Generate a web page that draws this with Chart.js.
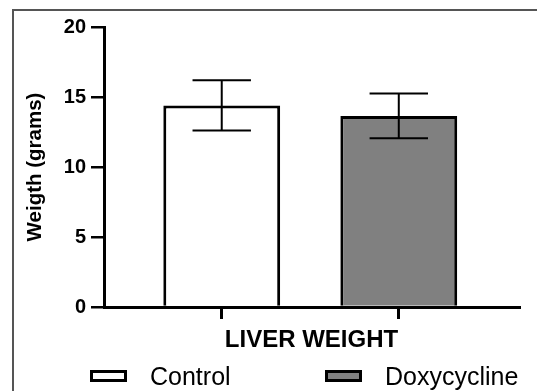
<!DOCTYPE html>
<html>
<head>
<meta charset="utf-8">
<title>Liver weight</title>
<script src="https://cdn.jsdelivr.net/npm/chart.js@4.4.1/dist/chart.umd.min.js"></script>
<style>
  html, body { margin: 0; padding: 0; background: #fff; }
  #wrap { position: relative; width: 537px; height: 391px; overflow: hidden; background: #fff; }
  #frame { position: absolute; left: 12px; top: 9px; width: 600px; height: 500px;
           border-left: 2px solid #555; border-top: 2px solid #555; }
  canvas { position: absolute; left: 0; top: 0; }
  #legend { position: absolute; left: 0; top: 363px; width: 537px; height: 26px;
            font-family: 'Liberation Sans', Arial, sans-serif; font-size: 25px; color: #000; }
  .item { position: absolute; top: 0; height: 26px; display: flex; align-items: center; white-space: nowrap; }
  .box { box-sizing: border-box; width: 37px; height: 12px; border: 3px solid #000; margin-right: 23px; }
</style>
</head>
<body>
<div id="wrap">
  <div id="frame"></div>
  <canvas id="liverChart" width="537" height="391"></canvas>
  <div id="legend"></div>
</div>
<script>
// data
const groups = ['Control', 'Doxycycline'];
const means = [14.4, 13.65];
const sds = [1.8, 1.6];
const yTicks = [0, 5, 10, 15, 20];
const fills = ['#ffffff', '#808080'];
const xTitle = 'LIVER WEIGHT';
const yTitle = 'Weigth (grams)';

const FONT = "'Liberation Sans', Arial, sans-serif";
Chart.defaults.font.family = FONT;
Chart.defaults.color = '#000';

// mean +/- sd whiskers, placed with the chart's own scales
const errorBars = {
  id: 'errorBars',
  afterDatasetsDraw(chart) {
    const ctx = chart.ctx;
    const y = chart.scales.y;
    const meta = chart.getDatasetMeta(0);
    ctx.save();
    ctx.strokeStyle = '#000';
    ctx.lineWidth = 2;
    meta.data.forEach((bar, i) => {
      const top = y.getPixelForValue(means[i] + sds[i]);
      const bot = y.getPixelForValue(means[i] - sds[i]);
      const half = bar.width / 4;
      ctx.beginPath();
      ctx.moveTo(bar.x, top);
      ctx.lineTo(bar.x, bot);
      ctx.moveTo(bar.x - half, top);
      ctx.lineTo(bar.x + half, top);
      ctx.moveTo(bar.x - half, bot);
      ctx.lineTo(bar.x + half, bot);
      ctx.stroke();
    });
    ctx.restore();
  }
};

const chart = new Chart(document.getElementById('liverChart'), {
  type: 'bar',
  data: {
    datasets: [{
      label: xTitle,
      data: groups.map((g, i) => ({ x: i, y: means[i] })),
      backgroundColor: fills,
      borderColor: '#000',
      borderWidth: 3,
      barPercentage: 0.66,
      categoryPercentage: 1
    }]
  },
  options: {
    responsive: false,
    maintainAspectRatio: false,
    devicePixelRatio: 1,
    animation: false,
    layout: { padding: { left: 0, top: 27, right: 18, bottom: 36 } },
    plugins: {
      legend: { display: false },
      tooltip: { enabled: false }
    },
    scales: {
      x: {
        type: 'linear',
        min: -0.665,
        max: 1.679,
        offset: false,
        afterBuildTicks: s => { s.ticks = groups.map((g, i) => ({ value: i })); },
        ticks: { display: false },
        grid: { drawOnChartArea: false, drawTicks: true, tickLength: 12, lineWidth: 3, color: '#000', offset: false },
        border: { display: true, color: '#000', width: 3 },
        title: {
          display: true,
          text: xTitle,
          color: '#000',
          font: { size: 24, weight: 'bold' },
          padding: 0
        },
        afterFit: s => { s.height = 48; }
      },
      y: {
        min: 0,
        max: 20,
        afterBuildTicks: s => { s.ticks = yTicks.map(v => ({ value: v })); },
        ticks: { color: '#000', padding: 5, font: { size: 20, weight: 'bold' } },
        grid: { drawOnChartArea: false, drawTicks: true, tickLength: 13, lineWidth: 2.5, color: '#000' },
        border: { display: true, color: '#000', width: 3 },
        title: {
          display: true,
          text: yTitle,
          color: '#000',
          font: { size: 20.5, weight: 'bold' },
          padding: { top: 23, bottom: 0 }
        },
        afterFit: s => { s.width = 104; }
      }
    }
  },
  plugins: [errorBars]
});

// legend underneath, same order and fills as the bars
const legendEl = document.getElementById('legend');
const legendX = [90, 325];
groups.forEach((g, i) => {
  const item = document.createElement('div');
  item.className = 'item';
  item.style.left = legendX[i] + 'px';
  const box = document.createElement('span');
  box.className = 'box';
  box.style.background = fills[i];
  const txt = document.createElement('span');
  txt.textContent = g;
  item.appendChild(box);
  item.appendChild(txt);
  legendEl.appendChild(item);
});
</script>
</body>
</html>
